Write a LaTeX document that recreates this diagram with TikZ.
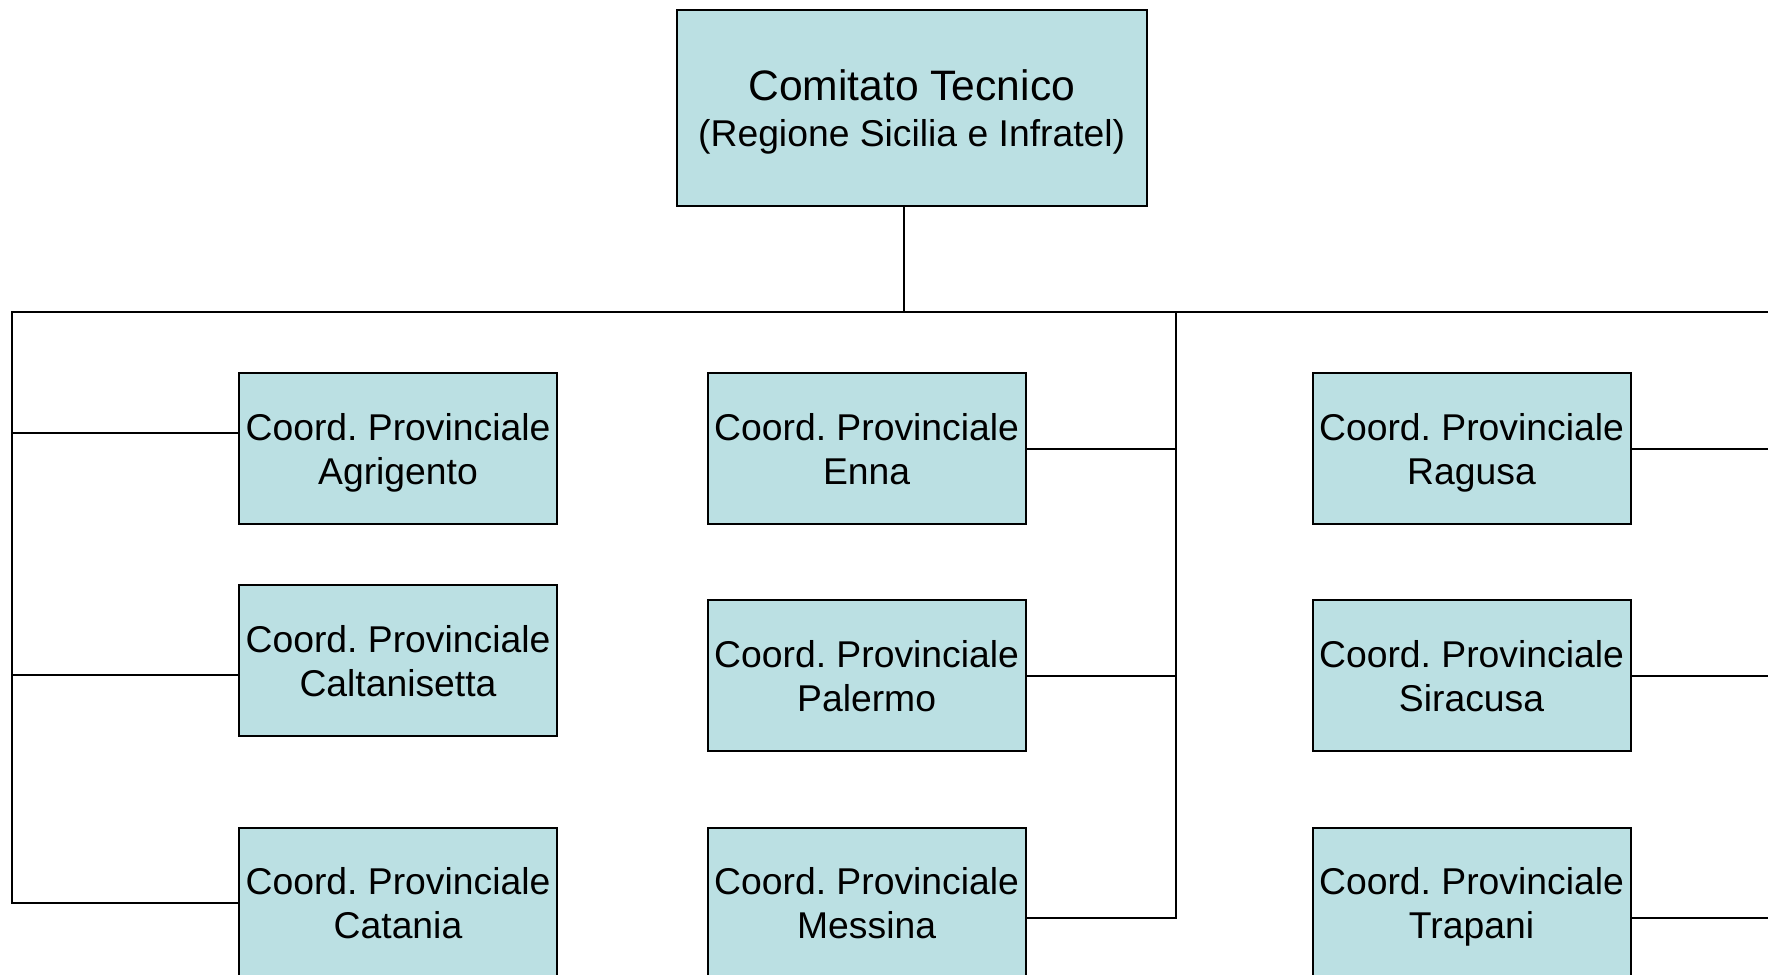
\documentclass[tikz,border=0pt]{standalone}
\usepackage{fontspec}
\setmainfont{Liberation Sans}
\usepackage{tikz}
\usetikzlibrary{positioning}
\frenchspacing
\definecolor{boxfill}{RGB}{187,224,227}
\tikzset{every picture/.style={line width=1pt}}
\tikzset{
  provbox/.style={draw, fill=boxfill, minimum width=159pt, minimum height=75.5pt,
    inner sep=1pt, text depth=0pt, align=center, font=\fontsize{18.65}{22}\selectfont},
  topbox/.style={draw, fill=boxfill, minimum width=235pt, minimum height=98pt,
    inner sep=1pt, text depth=-1pt, align=center, font=\fontsize{21.3}{23}\selectfont}
}

\begin{document}
\begin{tikzpicture}[x=0.5pt,y=0.5pt,yscale=-1]
\useasboundingbox (0,0) rectangle (1768,975);

% Text Node
\node [topbox] (comitato) at (911.7,108.2) {Comitato Tecnico\\{\fontsize{18.65}{23}\selectfont (Regione Sicilia e Infratel)}};

% Text Node
\node [provbox] (agrigento) at (398,448.8) {Coord. Provinciale\\Agrigento};
% Text Node
\node [provbox] (caltanisetta) at (398,660.8) {Coord. Provinciale\\Caltanisetta};
% Text Node
\node [provbox] (catania) at (398,903.1) {Coord. Provinciale\\Catania};
% Text Node
\node [provbox] (enna) at (866.6,448.8) {Coord. Provinciale\\Enna};
% Text Node
\node [provbox] (palermo) at (866.6,675.5) {Coord. Provinciale\\Palermo};
% Text Node
\node [provbox] (messina) at (866.6,903.1) {Coord. Provinciale\\Messina};
% Text Node
\node [provbox] (ragusa) at (1471.5,448.8) {Coord. Provinciale\\Ragusa};
% Text Node
\node [provbox] (siracusa) at (1471.5,675.5) {Coord. Provinciale\\Siracusa};
% Text Node
\node [provbox] (trapani) at (1471.5,903.1) {Coord. Provinciale\\Trapani};

% bus points
\coordinate (drop) at (904.3,312.3);
\coordinate (busL) at (12.4,312.3);
\coordinate (busM) at (1176.1,312.3);
\coordinate (busR) at (1768,312.3);
\coordinate (agrL) at (12.4,433);
\coordinate (calL) at (12.4,675.4);
\coordinate (mesR) at (1176.1,917.9);
\coordinate (traR) at (1768,917.9);

%Straight Lines
\draw (drop |- comitato.south) -- (drop);
%Straight Lines
\draw (busR) -- (busL) |- (catania.west);
%Straight Lines
\draw (agrL) -- (agrL -| agrigento.west);
%Straight Lines
\draw (calL) -- (calL -| caltanisetta.west);
%Straight Lines
\draw (busM) -- (mesR) -- (mesR -| messina.east);
%Straight Lines
\draw (enna.east) -- (enna.east -| busM);
%Straight Lines
\draw (palermo.east) -- (palermo.east -| busM);
%Straight Lines
\draw (ragusa.east) -- (ragusa.east -| busR);
%Straight Lines
\draw (siracusa.east) -- (siracusa.east -| busR);
%Straight Lines
\draw (traR -| trapani.east) -- (traR);
\end{tikzpicture}
\end{document}
